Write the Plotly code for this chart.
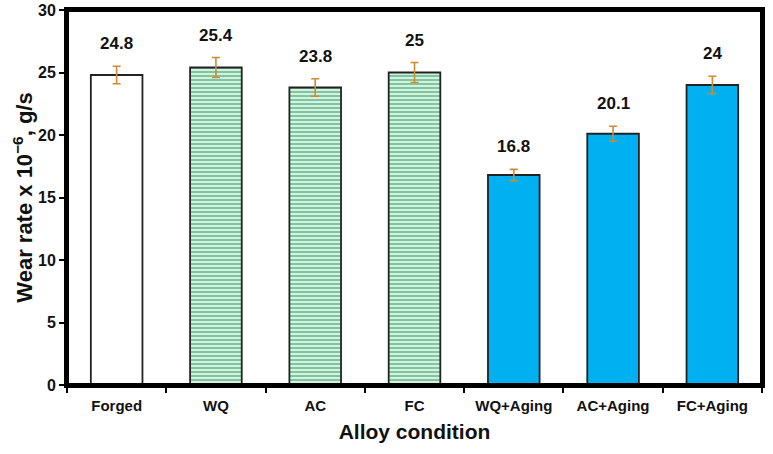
import plotly.graph_objects as go

categories = ["Forged", "WQ", "AC", "FC", "WQ+Aging", "AC+Aging", "FC+Aging"]
wear_rate = [24.8, 25.4, 23.8, 25.0, 16.8, 20.1, 24.0]
errors = [0.7, 0.8, 0.7, 0.8, 0.45, 0.6, 0.7]
labels = ["24.8", "25.4", "23.8", "25", "16.8", "20.1", "24"]
y_ticks = [0, 5, 10, 15, 20, 25, 30]

groups = [
    (categories[0:1], wear_rate[0:1], errors[0:1], dict(color="white")),
    (categories[1:4], wear_rate[1:4], errors[1:4],
     dict(color="white", pattern=dict(shape="-", fgcolor="#0A9148", bgcolor="#EEFBF2",
                                      size=4, solidity=0.6, fillmode="overlay"))),
    (categories[4:7], wear_rate[4:7], errors[4:7], dict(color="#00B0F0")),
]

fig = go.Figure()
for cats, vals, errs, mk in groups:
    mk = dict(mk)
    mk["line"] = dict(color="#222222", width=1.8)
    fig.add_trace(go.Bar(
        x=cats, y=vals, width=0.52, marker=mk,
        error_y=dict(type="data", array=errs, visible=True, color="#D08A30",
                     thickness=1.6, width=4),
        showlegend=False,
    ))

for c, v, e, t in zip(categories, wear_rate, errors, labels):
    fig.add_annotation(x=c, y=v + e, text="<b>%s</b>" % t, showarrow=False,
                       yanchor="bottom", yshift=11,
                       font=dict(family="Arial, Liberation Sans", size=17, color="#111"))

# thick black frame around the plot area
fig.add_shape(type="rect", xref="paper", yref="paper", x0=0, x1=1, y0=0, y1=1,
              line=dict(color="black", width=4), layer="above")

fig.update_layout(
    width=773, height=454,
    margin=dict(l=67, r=11, t=10, b=69, autoexpand=False),
    plot_bgcolor="white", paper_bgcolor="white",
    font=dict(family="Arial, Liberation Sans", color="#111"),
    xaxis=dict(
        categoryorder="array", categoryarray=categories, automargin=False,
        tickson="boundaries", ticks="outside", ticklen=5, tickwidth=2, tickcolor="black",
        showline=True, linecolor="black", linewidth=3, mirror=True, ticklabelstandoff=5,
        tickfont=dict(size=15, weight="bold"),
        title=dict(text="<b>Alloy condition</b>", font=dict(size=21), standoff=12),
        showgrid=False,
    ),
    yaxis=dict(
        range=[0, 30], tickvals=y_ticks, ticks="outside", ticklen=5, tickwidth=2,
        tickcolor="black", automargin=False,
        showline=True, linecolor="black", linewidth=3, mirror=True,
        tickfont=dict(size=16, weight="bold"),
        title=dict(text="<b>Wear rate x 10<sup>−6</sup>, g/s</b>", font=dict(size=22), standoff=0),
        showgrid=False, zeroline=False,
    ),
    bargap=0.48,
)

fig.write_html("out.html")
